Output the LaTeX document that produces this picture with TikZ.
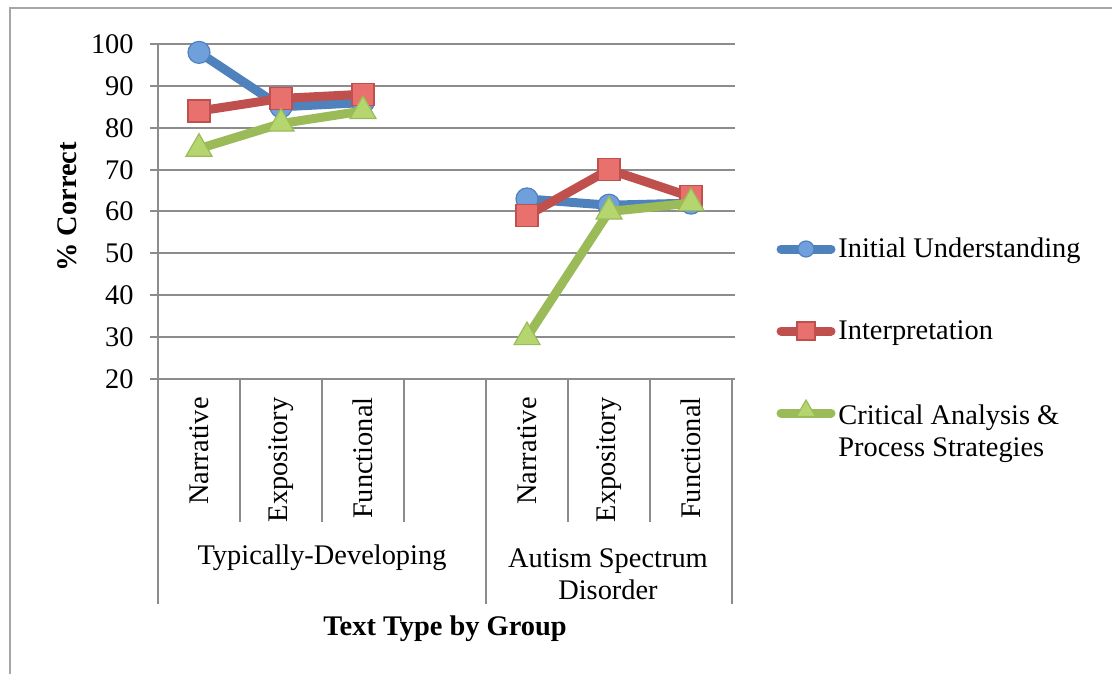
\documentclass[tikz,border=0pt]{standalone}
\usepackage{fontspec}
\setmainfont{Liberation Serif}
\usepackage{tikz}
\usetikzlibrary{shapes.geometric}

\definecolor{axisgray}{HTML}{8C8C8C}
\definecolor{framegray}{HTML}{A6A6A6}
\definecolor{iuline}{HTML}{4F81BD}
\definecolor{iufill}{HTML}{6FA0DC}
\definecolor{inline}{HTML}{C0504D}
\definecolor{infill}{HTML}{E8716D}
\definecolor{caline}{HTML}{9BBB59}
\definecolor{cafill}{HTML}{B5D66E}

% y position of a percentage
\newcommand{\pct}[1]{379-(#1-20)*4.1875}

\begin{document}
\begin{tikzpicture}[x=0.5pt,y=-0.5pt,
  font=\fontsize{14.2}{16}\selectfont,
  gridline/.style={draw=axisgray,line width=1.2pt},
  ticklabel/.style={anchor=east,inner sep=0pt},
  catlabel/.style={rotate=90,anchor=east,inner sep=0pt},
  iuseries/.style={draw=iuline,line width=4.5pt,line join=round,line cap=round},
  inseries/.style={draw=inline,line width=4.5pt,line join=round,line cap=round},
  caseries/.style={draw=caline,line width=4.5pt,line join=round,line cap=round},
  iudot/.style={circle,draw=iuline,fill=iufill,line width=0.6pt,minimum size=11pt,inner sep=0pt},
  insquare/.style={rectangle,draw=inline,fill=infill,line width=0.6pt,minimum size=11pt,inner sep=0pt},
  catri/.style={regular polygon,regular polygon sides=3,draw=caline,fill=cafill,line width=0.6pt,minimum size=15pt,inner sep=0pt}]
\useasboundingbox (0,0) rectangle (1112,674);

% frame
\draw[framegray,line width=1.2pt] (10,674) -- (10,8) -- (1112,8);

% grid and ticks
\draw[gridline] (150,44) -- (735,44);
\draw[gridline] (150,86) -- (735,86);
\draw[gridline] (150,128) -- (735,128);
\draw[gridline] (150,170) -- (735,170);
\draw[gridline] (150,211) -- (735,211);
\draw[gridline] (150,253) -- (735,253);
\draw[gridline] (150,295) -- (735,295);
\draw[gridline] (150,337) -- (735,337);
\draw[gridline] (150,379) -- (735,379);
\draw[gridline] (158,44) -- (158,604);

% category dividers
\draw[gridline] (240,379) -- (240,522);
\draw[gridline] (322,379) -- (322,522);
\draw[gridline] (404,379) -- (404,522);
\draw[gridline] (486,379) -- (486,604);
\draw[gridline] (568,379) -- (568,522);
\draw[gridline] (650,379) -- (650,522);
\draw[gridline] (732,379) -- (732,604);

% y labels
\node[ticklabel] (y100) at (134,44) {100};
\node[ticklabel] (y90) at (134,86) {90};
\node[ticklabel] (y80) at (134,128) {80};
\node[ticklabel] (y70) at (134,170) {70};
\node[ticklabel] (y60) at (134,211) {60};
\node[ticklabel] (y50) at (134,253) {50};
\node[ticklabel] (y40) at (134,295) {40};
\node[ticklabel] (y30) at (134,337) {30};
\node[ticklabel] (y20) at (134,379) {20};
\node[rotate=90,font=\fontsize{14.2}{16}\selectfont\bfseries] (ytitle) at (67,207) {\% Correct};

% x labels
\node[catlabel] (tdnar) at (199,397) {Narrative};
\node[catlabel] (tdexp) at (281,397) {Expository};
\node[catlabel] (tdfun) at (363,397) {Functional};
\node[catlabel] (asdnar) at (527,397) {Narrative};
\node[catlabel] (asdexp) at (609,397) {Expository};
\node[catlabel] (asdfun) at (691,397) {Functional};
\node (tdgroup) at (322,558) {Typically-Developing};
\node[align=center] (asdgroup) at (608,574) {Autism Spectrum\\Disorder};
\node[font=\fontsize{14.2}{16}\selectfont\bfseries] (xtitle) at (445,629) {Text Type by Group};

% data points
\coordinate (iu1) at (199,{\pct{98}});
\coordinate (iu2) at (281,{\pct{85}});
\coordinate (iu3) at (363,{\pct{86}});
\coordinate (iu4) at (527,{\pct{63}});
\coordinate (iu5) at (609,{\pct{61.5}});
\coordinate (iu6) at (691,{\pct{62}});
\coordinate (in1) at (199,{\pct{84}});
\coordinate (in2) at (281,{\pct{87}});
\coordinate (in3) at (363,{\pct{88}});
\coordinate (in4) at (527,{\pct{59}});
\coordinate (in5) at (609,{\pct{70}});
\coordinate (in6) at (691,{\pct{63.5}});
\coordinate (ca1) at (199,{\pct{75}});
\coordinate (ca2) at (281,{\pct{81}});
\coordinate (ca3) at (363,{\pct{84}});
\coordinate (ca4) at (527,{\pct{30}});
\coordinate (ca5) at (609,{\pct{60}});
\coordinate (ca6) at (691,{\pct{62}});

% initial understanding
\draw[iuseries] (iu1) -- (iu2) -- (iu3);
\draw[iuseries] (iu4) -- (iu5) -- (iu6);
\node[iudot] (iumk1) at (iu1) {};
\node[iudot] (iumk2) at (iu2) {};
\node[iudot] (iumk3) at (iu3) {};
\node[iudot] (iumk4) at (iu4) {};
\node[iudot] (iumk5) at (iu5) {};
\node[iudot] (iumk6) at (iu6) {};

% interpretation
\draw[inseries] (in1) -- (in2) -- (in3);
\draw[inseries] (in4) -- (in5) -- (in6);
\node[insquare] (inmk1) at (in1) {};
\node[insquare] (inmk2) at (in2) {};
\node[insquare] (inmk3) at (in3) {};
\node[insquare] (inmk4) at (in4) {};
\node[insquare] (inmk5) at (in5) {};
\node[insquare] (inmk6) at (in6) {};

% critical analysis
\draw[caseries] (ca1) -- (ca2) -- (ca3);
\draw[caseries] (ca4) -- (ca5) -- (ca6);
\node[catri] (camk1) at (ca1) {};
\node[catri] (camk2) at (ca2) {};
\node[catri] (camk3) at (ca3) {};
\node[catri] (camk4) at (ca4) {};
\node[catri] (camk5) at (ca5) {};
\node[catri] (camk6) at (ca6) {};

% legend
\coordinate (lg1a) at (781,249);
\coordinate (lg1b) at (831,249);
\coordinate (lg2a) at (781,331);
\coordinate (lg2b) at (831,331);
\coordinate (lg3a) at (781,413);
\coordinate (lg3b) at (831,413);
\draw[iuseries] (lg1a) -- (lg1b);
\node[iudot,minimum size=8pt] (lgmk1) at (806,249) {};
\node[anchor=west,inner sep=0pt] (lgtext1) at (838,251) {Initial Understanding};
\draw[inseries] (lg2a) -- (lg2b);
\node[insquare,minimum size=9pt] (lgmk2) at (806,331) {};
\node[anchor=west,inner sep=0pt] (lgtext2) at (838,333) {Interpretation};
\draw[caseries] (lg3a) -- (lg3b);
\node[catri,minimum size=11pt] (lgmk3) at (806,411) {};
\node[anchor=west,align=left,inner sep=0pt] (lgtext3) at (838,434) {Critical Analysis \&\\Process Strategies};
\end{tikzpicture}
\end{document}
